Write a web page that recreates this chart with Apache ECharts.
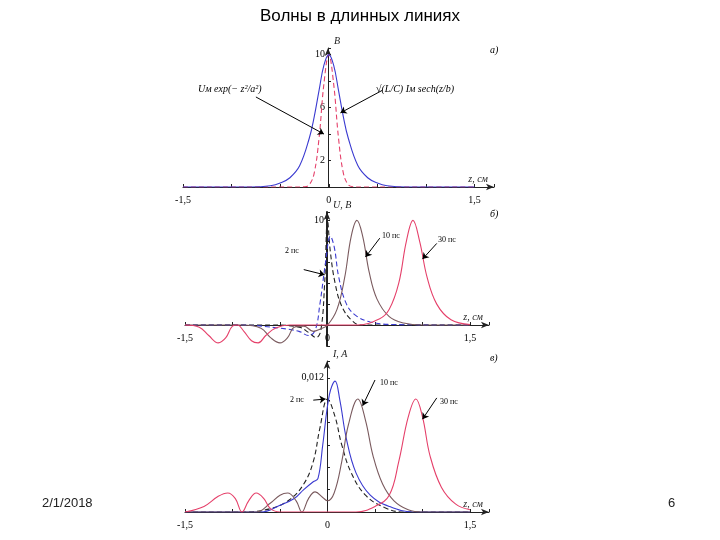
<!DOCTYPE html>
<html>
<head>
<meta charset="utf-8">
<script src="https://cdn.jsdelivr.net/npm/echarts@6/dist/echarts.min.js"></script>
<style>html,body{margin:0;padding:0;background:#fff}#main{width:720px;height:540px}</style>
</head>
<body>
<div id="main"></div>
<script>
// x ticks shared by all panels
var xTickLabels = ['-1,5', '0', '1,5'];

// panel a) : pulse shapes, V
var a_gauss = [[-1.5,0],[-0.3,0],[-0.25,0.02],[-0.2,0.18],[-0.15,1.05],[-0.1,3.7],[-0.05,7.8],[0,10],[0.05,7.8],[0.1,3.7],[0.15,1.05],[0.2,0.18],[0.25,0.02],[0.3,0],[1.5,0]];
var a_sech = [[-1.5,0],[-0.8,0],[-0.6,0.1],[-0.5,0.3],[-0.4,0.7],[-0.3,1.6],[-0.2,3.7],[-0.15,5.3],[-0.1,7.3],[-0.05,9.2],[0,10],[0.05,9.2],[0.1,7.3],[0.15,5.3],[0.2,3.7],[0.3,1.6],[0.4,0.7],[0.5,0.3],[0.6,0.1],[0.8,0],[1.5,0]];

// panel б) : voltage, V
var b_2ps_black = [[-1.5,0],[-0.6,0],[-0.3,-0.2],[-0.2,-0.7],[-0.12,-1.2],[-0.07,-0.5],[-0.03,4],[0,10],[0.03,7],[0.08,4],[0.15,1.8],[0.25,0.5],[0.35,0],[1.5,0]];
var b_2ps_blue = [[-1.5,0],[-0.9,0],[-0.5,-0.3],[-0.3,-0.6],[-0.2,-1],[-0.13,-0.5],[-0.08,2],[-0.02,6],[0.03,8.5],[0.07,7.5],[0.12,4.5],[0.2,2],[0.3,0.9],[0.45,0.3],[0.7,0.05],[1.5,0]];
var b_10ps = [[-1.5,0],[-0.9,0],[-0.7,-0.3],[-0.6,-1.2],[-0.5,-1.7],[-0.42,-1.2],[-0.35,-0.2],[-0.25,-0.1],[-0.15,-0.6],[-0.08,-0.4],[0,0],[0.1,1.5],[0.18,4.5],[0.25,8.5],[0.31,10],[0.37,8.5],[0.44,5],[0.52,2.5],[0.65,0.8],[0.8,0.2],[1.0,0],[1.5,0]];
var b_30ps = [[-1.5,0],[-1.35,-0.2],[-1.25,-1],[-1.15,-1.7],[-1.07,-1.2],[-1.0,-0.1],[-0.95,0],[-0.88,-0.6],[-0.8,-1.5],[-0.73,-1.7],[-0.65,-1.0],[-0.55,-0.3],[-0.4,0],[0.3,0],[0.55,0.6],[0.65,1.5],[0.75,4],[0.83,8],[0.9,10],[0.97,8],[1.05,4.5],[1.15,2],[1.3,0.5],[1.5,0.05]];

// panel в) : current, A
var c_2ps_black = [[-1.5,0],[-0.9,0],[-0.6,0.0003],[-0.4,0.0011],[-0.25,0.0025],[-0.15,0.0045],[-0.08,0.0075],[0,0.0101],[0.08,0.0085],[0.15,0.006],[0.25,0.0035],[0.4,0.0015],[0.6,0.0004],[0.8,0],[1.5,0]];
var c_2ps_blue = [[-1.5,0],[-0.7,0],[-0.5,0.0006],[-0.35,0.0012],[-0.25,0.002],[-0.15,0.0027],[-0.1,0.003],[-0.05,0.006],[0.02,0.0105],[0.08,0.0117],[0.13,0.01],[0.2,0.0065],[0.3,0.0035],[0.45,0.0015],[0.65,0.0005],[0.9,0],[1.5,0]];
var c_10ps = [[-1.5,0],[-0.75,0],[-0.6,0.0008],[-0.5,0.0015],[-0.42,0.0017],[-0.33,0.001],[-0.27,0],[-0.2,0.0012],[-0.13,0.0018],[-0.05,0.0013],[0,0.001],[0.07,0.0017],[0.15,0.0045],[0.22,0.0078],[0.32,0.0101],[0.4,0.0082],[0.48,0.005],[0.58,0.0025],[0.7,0.001],[0.85,0.0002],[1.0,0],[1.5,0]];
var c_30ps = [[-1.5,0],[-1.3,0.0005],[-1.15,0.0014],[-1.05,0.0017],[-0.97,0.0012],[-0.9,0],[-0.83,0.001],[-0.75,0.0017],[-0.67,0.0012],[-0.6,0.0003],[-0.5,0],[0.3,0],[0.5,0.0005],[0.65,0.0015],[0.75,0.0045],[0.85,0.0085],[0.93,0.0101],[1.0,0.0085],[1.08,0.005],[1.2,0.0022],[1.35,0.0007],[1.5,0.0002]];

var BLUE = '#3a3ad0', RED = '#e5406a', GRAY = '#7a5a5e', BLACK = '#222';
var FONT = 'Liberation Serif';

function xAxis(idx, offset) {
	return {
		type: 'value', gridIndex: idx, min: -1.5, max: 1.7, interval: 0.5,
		offset: offset,
		name: 'z, см', nameLocation: 'end', nameGap: -6,
		nameTextStyle: { fontFamily: FONT, fontSize: 10, fontStyle: 'italic', align: 'right', verticalAlign: 'bottom', padding: [0, 0, 3, 0] },
		axisLine: { onZero: false, lineStyle: { color: BLACK }, symbol: ['none', 'arrow'], symbolSize: [5, 8] },
		axisTick: { inside: true, length: 3 },
		splitLine: { show: false },
		axisLabel: {
			fontFamily: FONT, fontSize: 10, color: '#000',
			formatter: function(v) {
				if (v == -1.5) return xTickLabels[0];
				if (v == 0) return xTickLabels[1];
				if (v == 1.5) return xTickLabels[2];
				return '';
			}
		}
	};
}
function yAxis(idx, offset, min, max, interval, name, shown, fmt) {
	return {
		type: 'value', gridIndex: idx, min: min, max: max, interval: interval,
		offset: offset,
		name: name, nameLocation: 'end', nameGap: 2,
		nameTextStyle: { fontFamily: FONT, fontSize: 10, fontStyle: 'italic', align: 'left', padding: [0, 0, 0, 6] },
		axisLine: { onZero: false, lineStyle: { color: BLACK, width: idx == 1 ? 2 : 1 }, symbol: ['none', 'arrow'], symbolSize: [5, 8] },
		axisTick: { inside: true, length: 3 },
		splitLine: { show: false },
		axisLabel: {
			fontFamily: FONT, fontSize: 10, color: '#000', margin: 3,
			formatter: function(v) { return shown.indexOf(v) >= 0 ? fmt(v) : ''; }
		}
	};
}
function line(name, data, x, color, dashed, extra) {
	var s = {
		name: name, type: 'line', xAxisIndex: x, yAxisIndex: x, data: data,
		smooth: 0.4, showSymbol: false, silent: true,
		lineStyle: { color: color, width: 1.1, type: dashed ? [5, 3] : 'solid' }
	};
	if (extra) s.markLine = extra;
	return s;
}
function arrow(from, to) {
	return {
		silent: true, symbol: ['none', 'arrow'], symbolSize: 6,
		lineStyle: { color: '#000', width: 1, type: 'solid' }, label: { show: false },
		data: [[{ coord: from }, { coord: to }]]
	};
}

var myChart = echarts.init(document.getElementById('main'));
var option = {
	animation: false,
	grid: [
		{ left: 183, width: 311, top: 48, height: 139 },
		{ left: 185, width: 304, top: 212, height: 134 },
		{ left: 185, width: 304, top: 361, height: 151 }
	],
	// x offset: distance from grid bottom up to value 0; y offset: distance from grid left to z = 0
	xAxis: [xAxis(0, 0), xAxis(1, -21), xAxis(2, 0)],
	yAxis: [
		yAxis(0, -145, 0, 10.5, 2, 'В', [2, 6, 10], function(v) { return v; }),
		yAxis(1, -142, -2, 10.8, 2, 'U, В', [10], function(v) { return v; }),
		yAxis(2, -142, 0, 0.0135, 0.002, 'I, A', [0.012], function(v) { return '0,012'; })
	],
	series: [
		line('gauss', a_gauss, 0, RED, true, arrow([-0.75, 6.8], [-0.05, 4])),
		line('sech', a_sech, 0, BLUE, false, arrow([0.55, 7.3], [0.12, 5.6])),
		line('b2black', b_2ps_black, 1, BLACK, true),
		line('b2blue', b_2ps_blue, 1, BLUE, true, arrow([-0.25, 5.3], [-0.03, 4.8])),
		line('b10', b_10ps, 1, GRAY, false, arrow([0.55, 8.3], [0.4, 6.5])),
		line('b30', b_30ps, 1, RED, false, arrow([1.15, 7.8], [1.0, 6.3])),
		line('c2black', c_2ps_black, 2, BLACK, true, arrow([-0.15, 0.0100], [-0.02, 0.0101])),
		line('c2blue', c_2ps_blue, 2, BLUE, false),
		line('c10', c_10ps, 2, GRAY, false, arrow([0.5, 0.0118], [0.37, 0.0095])),
		line('c30', c_30ps, 2, RED, false, arrow([1.15, 0.0102], [1.0, 0.0083]))
	],
	graphic: [
		{ type: 'text', left: 'center', top: 8, style: { text: 'Волны в длинных линиях', fontFamily: 'Liberation Sans', fontSize: 17, fill: '#000', x: 30 } },
		{ type: 'text', left: 42, top: 497, style: { text: '2/1/2018', fontFamily: 'Liberation Sans', fontSize: 13, fill: '#222' } },
		{ type: 'text', left: 668, top: 497, style: { text: '6', fontFamily: 'Liberation Sans', fontSize: 13, fill: '#222' } },
		{ type: 'text', left: 490, top: 45, style: { text: 'а)', fontFamily: FONT, fontStyle: 'italic', fontSize: 10, fill: '#000' } },
		{ type: 'text', left: 490, top: 209, style: { text: 'б)', fontFamily: FONT, fontStyle: 'italic', fontSize: 10, fill: '#000' } },
		{ type: 'text', left: 490, top: 353, style: { text: 'в)', fontFamily: FONT, fontStyle: 'italic', fontSize: 10, fill: '#000' } },
		{ type: 'text', left: 198, top: 84, style: { text: 'Uм exp(− z²/a²)', fontFamily: FONT, fontStyle: 'italic', fontSize: 10, fill: '#000' } },
		{ type: 'text', left: 376, top: 84, style: { text: '√(L/C) Iм sech(z/b)', fontFamily: FONT, fontStyle: 'italic', fontSize: 10, fill: '#000' } },
		{ type: 'text', left: 285, top: 247, style: { text: '2 пс', fontFamily: FONT, fontSize: 8, fill: '#000' } },
		{ type: 'text', left: 382, top: 232, style: { text: '10 пс', fontFamily: FONT, fontSize: 8, fill: '#000' } },
		{ type: 'text', left: 438, top: 236, style: { text: '30 пс', fontFamily: FONT, fontSize: 8, fill: '#000' } },
		{ type: 'text', left: 290, top: 396, style: { text: '2 пс', fontFamily: FONT, fontSize: 8, fill: '#000' } },
		{ type: 'text', left: 380, top: 379, style: { text: '10 пс', fontFamily: FONT, fontSize: 8, fill: '#000' } },
		{ type: 'text', left: 440, top: 398, style: { text: '30 пс', fontFamily: FONT, fontSize: 8, fill: '#000' } }
	]
};
myChart.setOption(option);
</script>
</body>
</html>
